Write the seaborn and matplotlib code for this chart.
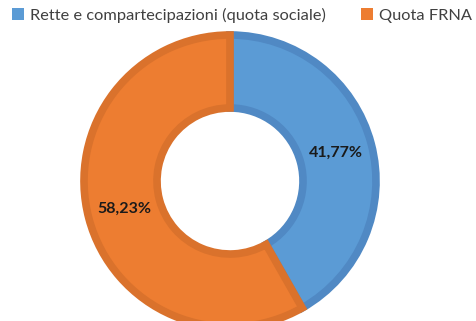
import matplotlib
matplotlib.use("Agg")
import matplotlib.pyplot as plt
from matplotlib.patches import Patch
import numpy as np
import seaborn as sns

# Funding split
categories = ["Rette e compartecipazioni (quota sociale)", "Quota FRNA"]
shares = [41.77, 58.23]
labels = ["41,77%", "58,23%"]

face_colors = ["#5B9BD5", "#ED7D31"]
edge_colors = ["#5089C4", "#DA722C"]

sns.set_theme(style="white")
plt.rcParams["font.family"] = ["Lato", "DejaVu Sans"]

fig = plt.figure(figsize=(4.77, 3.21), dpi=100)
ax = fig.add_axes([84 / 477, (321 - 327) / 321, 292 / 477, 292 / 321])

wedges, _ = ax.pie(
    shares,
    colors=face_colors,
    startangle=90,
    counterclock=False,
    radius=1.0,
    wedgeprops=dict(width=0.5, linewidth=5.5),
)
# darker border kept inside each ring segment
for w, ec in zip(wedges, edge_colors):
    w.set_edgecolor(ec)
    w.set_clip_path(w)

# percentage labels placed along each segment's mid angle
total = sum(shares)
start = 90.0
for share, text in zip(shares, labels):
    sweep = 360.0 * share / total
    mid = np.deg2rad(start - sweep / 2)
    r = 0.75
    ax.text(r * np.cos(mid), r * np.sin(mid), text, ha="center", va="center",
            fontsize=11.5, fontweight="bold", color="#1a1a1a")
    start -= sweep

ax.set_xlim(-1, 1)
ax.set_ylim(-1, 1)
ax.set_aspect("equal")
ax.axis("off")

handles = [Patch(facecolor=c, edgecolor="none") for c in face_colors]
fig.legend(
    handles, categories,
    loc="center", bbox_to_anchor=(242 / 477, 1 - 15 / 321),
    ncol=2, frameon=False, fontsize=11.8,
    handlelength=0.7, handleheight=0.7, handletextpad=0.35,
    columnspacing=2.2, labelcolor="#404040",
)

fig.savefig("out.png", dpi=100, facecolor="white")
